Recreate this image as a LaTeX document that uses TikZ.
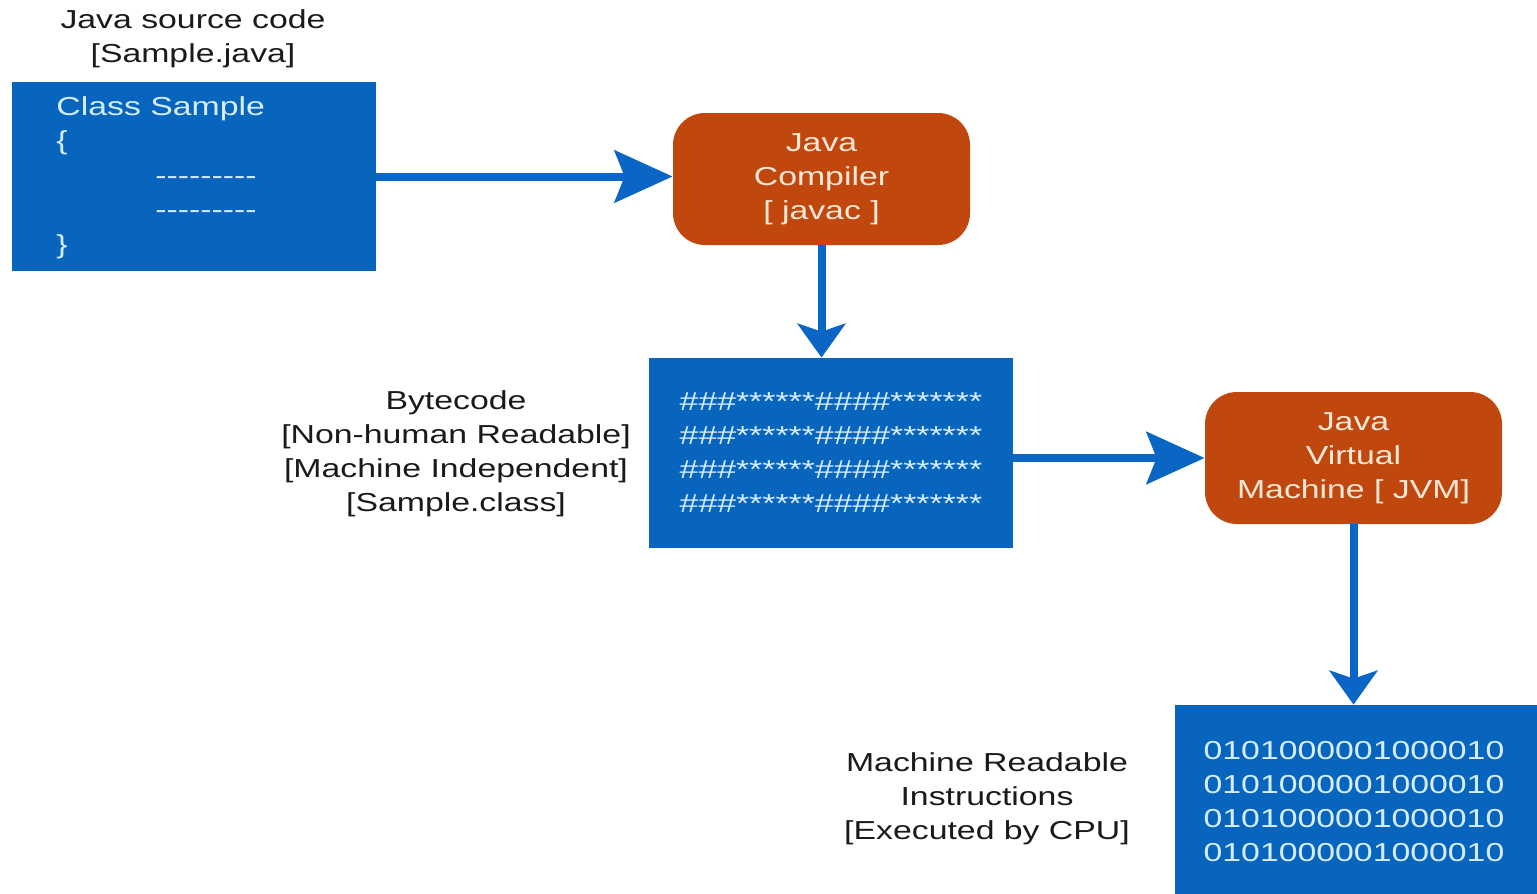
\documentclass[tikz,border=0pt]{standalone}
\usepackage{fontspec}
\usetikzlibrary{arrows.meta}
\newfontfamily\lab[FakeStretch=1.3]{Liberation Sans}

\definecolor{boxblue}{RGB}{8,101,190}
\definecolor{arrowblue}{RGB}{10,102,196}
\definecolor{rust}{RGB}{192,72,14}
\definecolor{cream}{RGB}{250,232,214}
\definecolor{paleblue}{RGB}{214,236,255}
\definecolor{ink}{RGB}{26,26,26}

\tikzset{
  txt/.style={font={\lab\fontsize{13}{17}\selectfont}, inner sep=0pt},
  caption/.style={txt, text=ink, align=center},
  codebox/.style={draw=none, fill=boxblue, minimum width=182pt, minimum height=95pt, inner sep=0pt},
  codetext/.style={txt, text=paleblue, align=left},
  tool/.style={draw=none, fill=rust, rounded corners=16pt, minimum width=148.5pt, minimum height=66pt,
    inner sep=0pt, txt, text=cream, align=center},
  flow/.style={draw=arrowblue, line width=4pt},
  hflow/.style={flow, -{Stealth[length=29pt, width=26pt, inset=5pt]}},
  vflow/.style={flow, -{Stealth[length=17pt, width=24pt, inset=4pt]}},
}

\begin{document}
\begin{tikzpicture}[x=0.5pt, y=-0.5pt]
  \useasboundingbox (0,0) rectangle (1537,894);
  \clip (0,0) rectangle (1537,894);
  \fill[white] (0,0) rectangle (1537,894);

  % source file
  \node[caption] (srclabel) at (193,38.5) {Java source code\\{[Sample.java]}};
  \node[codebox, minimum height=94.5pt] (src) at (194,176.5) {};
  \node[codetext, anchor=base west] (cls) at (56,115) {Class Sample};
  \node[codetext, anchor=base west] (ob) at (56,149.5) {\{};
  \node[codetext, anchor=base west] (d1) at (155,184) {---------};
  \node[codetext, anchor=base west] (d2) at (155,218.5) {---------};
  \node[codetext, anchor=base west] (cb) at (56,253) {\}};

  % compiler
  \node[tool] (comp) at (821.5,179) {Java\\Compiler\\{[ javac ]}};

  % bytecode
  \node[caption] (bytelabel) at (456,453.5)
    {Bytecode\\{[Non-human Readable]}\\{[Machine Independent]}\\{[Sample.class]}};
  \node[codebox, text=paleblue, txt, align=left] (byte) at (831,453)
    {\#\#\#******\#\#\#\#*******\\\#\#\#******\#\#\#\#*******\\
     \#\#\#******\#\#\#\#*******\\\#\#\#******\#\#\#\#*******};

  % virtual machine
  \node[tool] (jvm) at (1353.5,458) {Java\\Virtual\\Machine [ JVM]};

  % machine code
  \node[caption] (cpulabel) at (987,799) {Machine Readable\\Instructions\\{[Executed by CPU]}};
  \node[codebox, minimum width=190pt, minimum height=100pt] (bin) at (1365,805) {};
  \node[codetext] (bintext) at (1354,802)
    {0101000001000010\\0101000001000010\\0101000001000010\\0101000001000010};

  % flow arrows
  \draw[hflow] (src.east) -- (src.east -| comp.west);
  \draw[vflow] (comp.south) -- (comp.south |- byte.north);
  \draw[hflow] (jvm.west -| byte.east) -- (jvm.west);
  \draw[vflow] (jvm.south) -- (jvm.south |- bin.north);
\end{tikzpicture}
\end{document}
